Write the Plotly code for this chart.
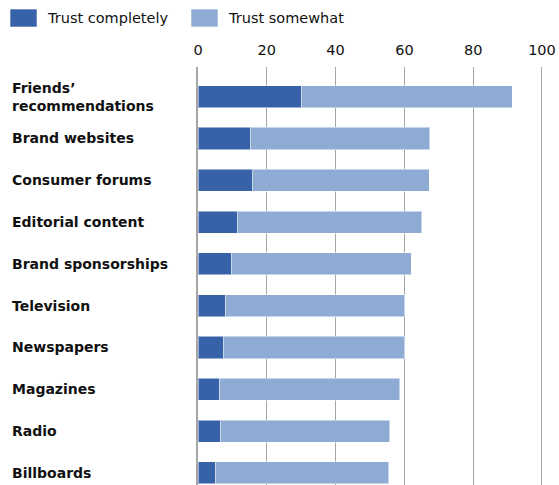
import plotly.graph_objects as go

categories = ["Friends’<br>recommendations", "Brand websites", "Consumer forums",
              "Editorial content", "Brand sponsorships", "Television", "Newspapers",
              "Magazines", "Radio", "Billboards"]
trust_completely = [30.2, 15.4, 15.7, 11.4, 9.6, 8.0, 7.4, 6.3, 6.6, 5.2]
trust_somewhat = [61.2, 52.0, 51.6, 53.7, 52.4, 52.1, 52.7, 52.3, 49.1, 50.3]
series_names = ["Trust completely", "Trust somewhat"]
tick_vals = [0, 20, 40, 60, 80, 100]

DARK = "#3762A8"
LIGHT = "#8EABD4"
FONT = "DejaVu Sans"

fig = go.Figure()
fig.add_trace(go.Bar(y=categories, x=trust_completely, orientation="h", name=series_names[0],
                     marker=dict(color=DARK, line=dict(color="rgba(255,255,255,0.5)", width=1)),
                     width=0.53))
fig.add_trace(go.Bar(y=categories, x=trust_somewhat, orientation="h", name=series_names[1],
                     marker=dict(color=LIGHT, line=dict(color="rgba(255,255,255,0.5)", width=1)),
                     width=0.53))

W, H = 559, 485
ml, mr, mt, mb = 198, 16, 67, 0

fig.update_layout(
    width=W, height=H, barmode="stack", showlegend=False,
    margin=dict(l=ml, r=mr, t=mt, b=mb),
    paper_bgcolor="white", plot_bgcolor="white",
    font=dict(family=FONT, size=14, color="#111"),
    xaxis=dict(range=[0, 100.3], side="top", tickvals=tick_vals, showgrid=True,
               gridcolor="#A6A6A6", gridwidth=1.3, zeroline=False, showline=False,
               ticks="", ticklen=0, ticklabelstandoff=8,
               tickfont=dict(size=14.5, color="#111"), fixedrange=True),
    yaxis=dict(range=[9.29, -0.71], showticklabels=False, showgrid=False, zeroline=False,
               showline=True, linecolor="#A6A6A6", linewidth=1.5, ticks=""),
)

# category labels, left-aligned
for cat in categories:
    fig.add_annotation(x=0, xref="paper", y=cat, yref="y", text="<b>" + cat + "</b>",
                       xanchor="left", yanchor="middle", xshift=-188, showarrow=False,
                       align="left", font=dict(family=FONT, size=14, color="#111"))

# legend built from swatches
legend_items = [(series_names[0], DARK, 10), (series_names[1], LIGHT, 191)]
for name, col, px in legend_items:
    x0 = (px - ml) / (W - ml - mr)
    x1 = (px + 27 - ml) / (W - ml - mr)
    y0 = (H - mb - 27) / (H - mt - mb)
    y1 = (H - mb - 9) / (H - mt - mb)
    fig.add_shape(type="rect", xref="paper", yref="paper", x0=x0, x1=x1, y0=y0, y1=y1,
                  fillcolor=col, line=dict(color="rgba(255,255,255,0.6)", width=1))
    fig.add_annotation(x=x1, xref="paper", y=(y0 + y1) / 2, yref="paper", text=name,
                       xanchor="left", yanchor="middle", xshift=8, showarrow=False,
                       font=dict(family=FONT, size=14.5, color="#111"))

fig.write_html("out.html")
